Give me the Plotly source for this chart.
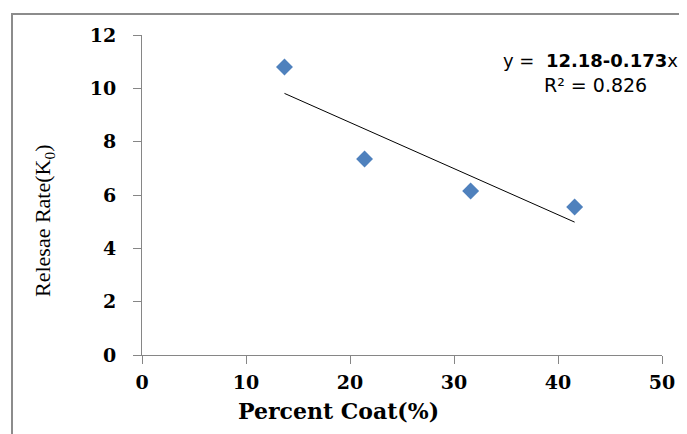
import plotly.graph_objects as go

# Data
percent_coat = [13.7, 21.4, 31.6, 41.6]
release_rate = [10.8, 7.35, 6.15, 5.55]
fit_intercept = 12.18
fit_slope = -0.173
x_ticks = [0, 10, 20, 30, 40, 50]
y_ticks = [0, 2, 4, 6, 8, 10, 12]

W, H = 687, 434
OFF = 8  # page body margin
# plot area in page pixels
PL, PR, PT, PB = 142, 662, 35, 355
L = PL - OFF
T = PT - OFF
R = W - (PR - OFF)
B = H - (PB - OFF)

trend_x = [min(percent_coat), max(percent_coat)]
trend_y = [fit_intercept + fit_slope * v for v in trend_x]

fig = go.Figure()
fig.add_trace(go.Scatter(x=trend_x, y=trend_y, mode="lines",
                         line=dict(color="#000000", width=1), showlegend=False))
fig.add_trace(go.Scatter(x=percent_coat, y=release_rate, mode="markers",
                         marker=dict(symbol="diamond", size=13, color="#4F81BD",
                                     line=dict(width=0)), showlegend=False))

axis_common = dict(showgrid=False, zeroline=False, showline=True, linecolor="#868686",
                   linewidth=1, ticks="outside", ticklen=8, tickcolor="#868686",
                   tickfont=dict(family="DejaVu Serif", size=19, color="#000000",
                                 weight="bold"))
fig.update_xaxes(range=[0, 50], tickvals=x_ticks, ticklabelstandoff=2, **axis_common)
fig.update_yaxes(range=[0, 12], tickvals=y_ticks, ticklabelstandoff=13, **axis_common)

pw = PR - PL
ph = PB - PT
def px_x(p):
    return (p - PL) / pw
def px_y(p):
    return (PB - p) / ph

# Outer border
fig.add_shape(type="rect", xref="paper", yref="paper",
              x0=px_x(12), x1=px_x(720), y0=px_y(14), y1=px_y(480),
              line=dict(color="#8c8c8c", width=2), layer="below")

fig.add_annotation(xref="paper", yref="paper", x=px_x(338), y=px_y(411),
                   xanchor="center", yanchor="middle",
                   text="<b>Percent Coat(%)</b>", showarrow=False,
                   font=dict(family="DejaVu Serif", size=22, color="#000000"))
fig.add_annotation(xref="paper", yref="paper", x=px_x(44), y=px_y(221),
                   xanchor="center", yanchor="middle",
                   text="Relesae Rate(K<sub>0</sub>)", textangle=-90, showarrow=False,
                   font=dict(family="Liberation Serif", size=22, color="#000000"))
fig.add_annotation(xref="paper", yref="paper", x=px_x(590), y=px_y(60),
                   xanchor="center", yanchor="middle",
                   text="y =  <b>12.18-0.173</b>x", showarrow=False,
                   font=dict(family="DejaVu Sans", size=18, color="#000000"))
fig.add_annotation(xref="paper", yref="paper", x=px_x(595), y=px_y(85),
                   xanchor="center", yanchor="middle",
                   text="R² = 0.826", showarrow=False,
                   font=dict(family="DejaVu Sans", size=19, color="#000000"))

fig.update_layout(width=W, height=H, margin=dict(l=L, r=R, t=T, b=B),
                  plot_bgcolor="white", paper_bgcolor="white")
fig.write_html("out.html")
